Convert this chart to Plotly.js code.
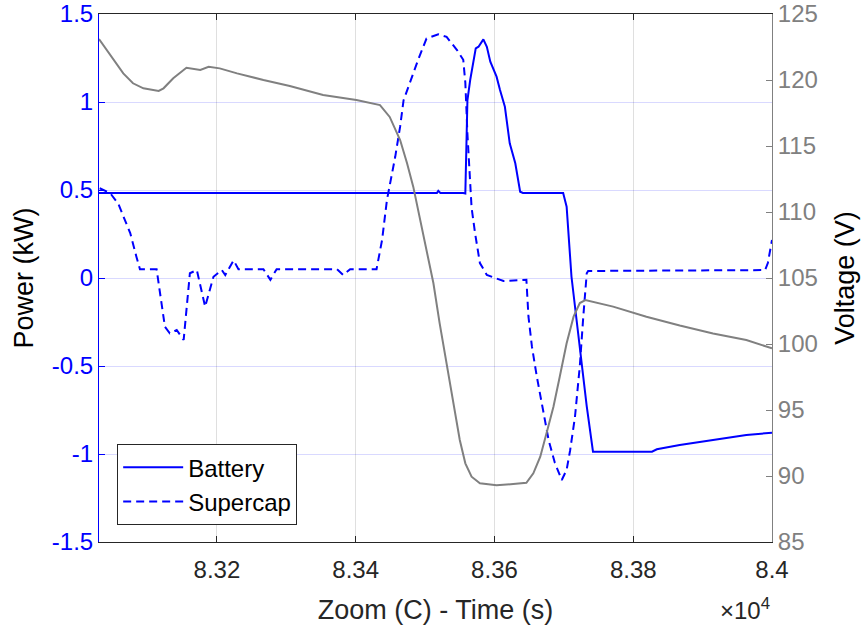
<!DOCTYPE html>
<html>
<head>
<meta charset="utf-8">
<script src="https://cdn.plot.ly/plotly-3.0.1.min.js"></script>
<style>html,body{margin:0;padding:0;background:#fff;}#chart{width:864px;height:625px;}</style>
</head>
<body>
<div id="chart"></div>
<script>
// Battery power (kW)
const batteryTime = [83030, 83517, 83519, 83522, 83555, 83558, 83561, 83565, 83573, 83577, 83584, 83589, 83594, 83603, 83608, 83615, 83622, 83630, 83637, 83641, 83699, 83704, 83711, 83723, 83733, 83742, 83827, 83834, 83867, 83915, 83963, 84000];
const batteryPower = [0.483, 0.483, 0.495, 0.483, 0.483, 0.48, 1.01, 1.125, 1.305, 1.314, 1.356, 1.314, 1.229, 1.144, 1.068, 0.973, 0.765, 0.652, 0.49, 0.483, 0.483, 0.405, 0.007, -0.41, -0.73, -0.987, -0.987, -0.973, -0.949, -0.92, -0.892, -0.879];

// Supercap power (kW)
const supercapTime = [83031, 83046, 83058, 83065, 83075, 83084, 83089, 83113, 83118, 83125, 83132, 83142, 83152, 83156, 83161, 83171, 83183, 83195, 83207, 83212, 83224, 83231, 83267, 83277, 83286, 83373, 83382, 83392, 83430, 83438, 83445, 83457, 83464, 83469, 83478, 83490, 83502, 83519, 83531, 83546, 83555, 83558, 83561, 83564, 83567, 83572, 83579, 83589, 83601, 83613, 83646, 83649, 83654, 83661, 83670, 83678, 83687, 83697, 83704, 83709, 83716, 83723, 83728, 83733, 83735, 83990, 83994, 84000];
const supercapPower = [0.51, 0.483, 0.42, 0.35, 0.255, 0.12, 0.05, 0.05, -0.087, -0.277, -0.314, -0.295, -0.352, -0.2, 0.027, 0.045, -0.163, 0.007, 0.045, 0.017, 0.1, 0.05, 0.05, -0.01, 0.05, 0.05, 0.017, 0.05, 0.05, 0.216, 0.443, 0.69, 0.86, 1.01, 1.11, 1.24, 1.36, 1.385, 1.37, 1.295, 1.24, 1.11, 0.82, 0.57, 0.40, 0.255, 0.085, 0.017, -0.002, -0.017, -0.01, -0.22, -0.39, -0.56, -0.75, -0.92, -1.05, -1.148, -1.09, -0.98, -0.79, -0.50, -0.22, 0.027, 0.04, 0.045, 0.085, 0.216];

// Voltage (V)
const voltageTime = [83030, 83046, 83065, 83079, 83094, 83116, 83123, 83137, 83156, 83176, 83188, 83204, 83229, 83267, 83305, 83353, 83401, 83435, 83449, 83464, 83474, 83483, 83493, 83502, 83512, 83521, 83531, 83541, 83550, 83558, 83567, 83579, 83603, 83627, 83646, 83656, 83666, 83675, 83685, 83694, 83704, 83714, 83723, 83731, 83771, 83819, 83867, 83915, 83963, 84000];
const voltage = [123.1, 121.9, 120.5, 119.75, 119.37, 119.17, 119.37, 120.13, 120.93, 120.76, 121.0, 120.88, 120.5, 120.0, 119.55, 118.86, 118.48, 118.1, 117.2, 115.45, 113.7, 111.9, 109.4, 107.1, 104.6, 101.57, 98.54, 95.5, 92.73, 90.96, 89.95, 89.45, 89.3, 89.39, 89.48, 90.2, 91.46, 93.23, 95.25, 97.5, 100.05, 102.07, 103.1, 103.33, 102.83, 102.07, 101.4, 100.8, 100.3, 99.67];

const xTickVals = [83200, 83400, 83600, 83800, 84000];
const xTickText = ["8.32", "8.34", "8.36", "8.38", "8.4"];
const seriesNames = ["Battery", "Supercap"];

const FONT = '"Liberation Sans", Arial, Helvetica, sans-serif';
const DARK = '#262626';
const BLUE = '#0000ff';
const GRAY = '#808080';

const traces = [
  {x: voltageTime, y: voltage, yaxis: 'y2', type: 'scatter', mode: 'lines',
   line: {color: GRAY, width: 2}, showlegend: false, name: 'Voltage', hoverinfo: 'skip'},
  {x: batteryTime, y: batteryPower, type: 'scatter', mode: 'lines', name: seriesNames[0],
   line: {color: BLUE, width: 2}},
  {x: supercapTime, y: supercapPower, type: 'scatter', mode: 'lines', name: seriesNames[1],
   line: {color: BLUE, width: 2, dash: '8px,5px'}}
];

const layout = {
  width: 864, height: 625,
  margin: {l: 99, r: 92, t: 14, b: 83, pad: 0},
  paper_bgcolor: '#ffffff', plot_bgcolor: '#ffffff',
  font: {family: FONT, size: 24, color: DARK},
  showlegend: true,
  legend: {x: 0.027, y: 0.032, xanchor: 'left', yanchor: 'bottom',
    bgcolor: '#ffffff', bordercolor: DARK, borderwidth: 1,
    font: {family: FONT, size: 24, color: '#000000'}, tracegroupgap: 0, itemwidth: 60},
  xaxis: {
    range: [83030, 84000], tickvals: xTickVals, ticktext: xTickText,
    ticks: 'inside', ticklen: 6, tickcolor: DARK, tickwidth: 1,
    showline: true, linecolor: DARK, linewidth: 1, mirror: 'ticks',
    showgrid: true, gridcolor: 'rgba(38,38,38,0.15)', gridwidth: 1,
    zeroline: false, ticklabelstandoff: 6,
    tickfont: {family: FONT, size: 24, color: DARK},
    title: {text: 'Zoom (C) - Time (s)', font: {family: FONT, size: 27, color: DARK}, standoff: 22}
  },
  yaxis: {
    range: [-1.5, 1.5],
    tickvals: [-1.5, -1, -0.5, 0, 0.5, 1, 1.5], ticktext: ['-1.5', '-1', '-0.5', '0', '0.5', '1', '1.5'],
    ticks: 'inside', ticklen: 6, tickcolor: BLUE, tickwidth: 1,
    showline: true, linecolor: BLUE, linewidth: 1,
    showgrid: true, gridcolor: 'rgba(0,0,255,0.15)', gridwidth: 1,
    zeroline: false,
    tickfont: {family: FONT, size: 24, color: BLUE},
    title: {text: 'Power (kW)', font: {family: FONT, size: 27, color: '#000000'}, standoff: 10}
  },
  yaxis2: {
    range: [85, 125], dtick: 5, overlaying: 'y', side: 'right',
    ticks: 'inside', ticklen: 6, tickcolor: GRAY, tickwidth: 1,
    showline: true, linecolor: GRAY, linewidth: 1,
    showgrid: false, zeroline: false,
    tickfont: {family: FONT, size: 24, color: GRAY},
    title: {text: 'Voltage (V)', font: {family: FONT, size: 27, color: '#000000'}, standoff: 18}
  },
  annotations: [{
    xref: 'paper', yref: 'paper', x: 1.0, y: -0.095, xanchor: 'right', yanchor: 'top',
    text: '×10<sup>4</sup>', showarrow: false, font: {family: FONT, size: 24, color: DARK}
  }]
};

Plotly.newPlot('chart', traces, layout, {displayModeBar: false, staticPlot: true});
</script>
</body>
</html>
